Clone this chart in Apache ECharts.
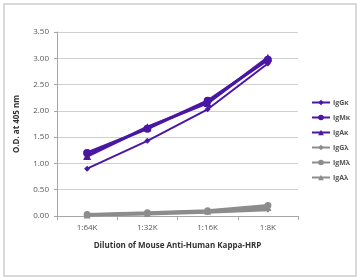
<!DOCTYPE html>
<html>
<head>
<meta charset="utf-8">
<script src="https://cdn.jsdelivr.net/npm/echarts@6/dist/echarts.min.js"></script>
<style>
  html, body { margin: 0; padding: 0; background: #fff; }
  #chart { width: 360px; height: 280px; }
</style>
</head>
<body>
<div id="chart"></div>
<script>
var dilutions = ['1:64K', '1:32K', '1:16K', '1:8K'];
var yTicks = [0, 0.5, 1, 1.5, 2, 2.5, 3, 3.5];

var igGk = [0.90, 1.43, 2.03, 2.90];
var igMk = [1.20, 1.66, 2.19, 2.97];
var igAk = [1.14, 1.69, 2.15, 3.01];
var igGl = [0.02, 0.04, 0.07, 0.12];
var igMl = [0.03, 0.06, 0.10, 0.20];
var igAl = [0.02, 0.05, 0.09, 0.16];

var purple = '#4a17a3';
var grey = '#8c8c8c';

function mk(name, data, symbol, color, size, width) {
  return {
    name: name,
    type: 'line',
    data: data,
    symbol: symbol,
    symbolSize: size,
    showSymbol: true,
    lineStyle: { color: color, width: width },
    itemStyle: { color: color },
    emphasis: { disabled: true }
  };
}

var chart = echarts.init(document.getElementById('chart'));

var option = {
  animation: false,
  textStyle: { fontFamily: 'Open Sans' },
  graphic: [{
    type: 'rect',
    shape: { x: 4, y: 4, width: 352, height: 272 },
    style: { fill: 'none', stroke: '#d9d9d9', lineWidth: 2 },
    silent: true
  }],
  grid: { left: 57, right: 62, top: 32, bottom: 64 },
  legend: {
    orient: 'vertical',
    left: 306,
    top: 94,
    itemWidth: 18,
    itemHeight: 7,
    itemGap: 8,
    textStyle: { fontSize: 7, fontWeight: 'bold', color: '#555', padding: [0, 0, 0, -2] },
    data: ['IgGκ', 'IgMκ', 'IgAκ', 'IgGλ', 'IgMλ', 'IgAλ']
  },
  xAxis: {
    type: 'category',
    data: dilutions,
    boundaryGap: true,
    name: 'Dilution of Mouse Anti-Human Kappa-HRP',
    nameLocation: 'middle',
    nameGap: 26,
    nameTextStyle: { fontSize: 8, fontWeight: 'bold', color: '#333' },
    axisLine: { lineStyle: { color: '#a6a6a6' } },
    axisTick: { show: true, alignWithLabel: false, length: 4, lineStyle: { color: '#a6a6a6' } },
    axisLabel: { fontSize: 8, color: '#595959', margin: 8 }
  },
  yAxis: {
    type: 'value',
    min: yTicks[0],
    max: yTicks[yTicks.length - 1],
    interval: 0.5,
    name: 'O.D. at 405 nm',
    nameLocation: 'middle',
    nameGap: 36,
    nameTextStyle: { fontSize: 8, fontWeight: 'bold', color: '#333' },
    axisLine: { show: true, lineStyle: { color: '#a6a6a6' } },
    axisTick: { show: true, length: 3, lineStyle: { color: '#a6a6a6' } },
    axisLabel: {
      fontSize: 8, color: '#595959', margin: 8,
      formatter: function (v) { return v.toFixed(2); }
    },
    splitLine: { lineStyle: { color: '#d0d0d0' } }
  },
  series: [
    mk('IgGλ', igGl, 'diamond', grey, 6, 3),
    mk('IgMλ', igMl, 'circle', grey, 7, 3),
    mk('IgAλ', igAl, 'triangle', grey, 7, 3),
    mk('IgGκ', igGk, 'diamond', purple, 6, 2),
    mk('IgMκ', igMk, 'circle', purple, 8, 3),
    mk('IgAκ', igAk, 'triangle', purple, 8, 3)
  ]
};

chart.setOption(option);
</script>
</body>
</html>
